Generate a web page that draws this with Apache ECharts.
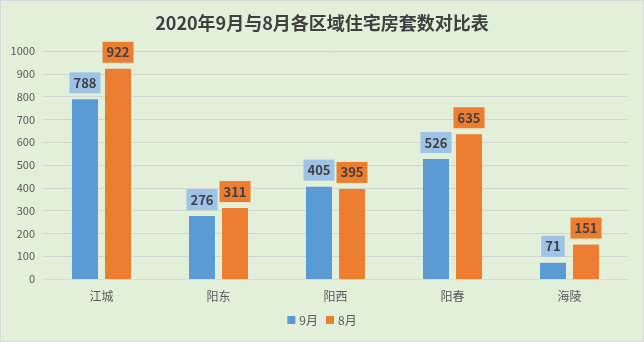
<!DOCTYPE html>
<html>
<head>
<meta charset="utf-8">
<script src="https://cdn.jsdelivr.net/npm/echarts@6/dist/echarts.min.js"></script>
<style>
  html, body { margin: 0; padding: 0; }
  #chart { width: 642px; height: 340px; border: 1px solid #d9d9d9; background: #E2EFD9; }
</style>
</head>
<body>
<div id="chart"></div>
<script>
// Housing units by district, September vs August 2020
const titleText = '2020年9月与8月各区域住宅房套数对比表';
const districts = ['江城', '阳东', '阳西', '阳春', '海陵'];
const september = [788, 276, 405, 526, 71];
const august = [922, 311, 395, 635, 151];
const seriesNames = ['9月', '8月'];

const chart = echarts.init(document.getElementById('chart'));
const font = '"Microsoft YaHei", "Noto Sans CJK SC", sans-serif';

function valueLabel(bg) {
  return {
    show: true,
    position: 'top',
    distance: 6,
    backgroundColor: bg,
    padding: [4, 4, 4, 4],
    color: '#404040',
    fontWeight: 'bold',
    fontSize: 13,
    fontFamily: font
  };
}

chart.setOption({
  backgroundColor: '#E2EFD9',
  textStyle: { fontFamily: font },
  title: {
    text: titleText,
    left: 'center',
    top: 8,
    textStyle: { fontSize: 18, fontWeight: 'bold', color: '#404040', fontFamily: font }
  },
  legend: {
    data: seriesNames,
    bottom: 10,
    left: 'center',
    itemWidth: 8,
    itemHeight: 8,
    itemGap: 8,
    icon: 'rect',
    textStyle: { color: '#595959', fontSize: 12, fontFamily: font, padding: [0, 0, 0, -1] }
  },
  grid: { left: 42, right: 15, top: 50, bottom: 62 },
  xAxis: {
    type: 'category',
    data: districts,
    axisLine: { lineStyle: { color: '#d9d9d9' } },
    axisTick: { show: false },
    axisLabel: { color: '#595959', fontSize: 12, margin: 11, fontFamily: font }
  },
  yAxis: {
    type: 'value',
    min: 0,
    max: 1000,
    interval: 100,
    axisLine: { show: false },
    axisTick: { show: false },
    axisLabel: { color: '#595959', fontSize: 11, margin: 8, fontFamily: font, formatter: v => String(v) },
    splitLine: { lineStyle: { color: '#d4d4d4', width: 1 } }
  },
  series: [
    {
      name: seriesNames[0],
      type: 'bar',
      data: september,
      barWidth: 26,
      barGap: '27%',
      itemStyle: { color: '#5B9BD5' },
      label: valueLabel('#9DC3E6')
    },
    {
      name: seriesNames[1],
      type: 'bar',
      data: august,
      barWidth: 26,
      itemStyle: { color: '#ED7D31' },
      label: valueLabel('#ED7D31')
    }
  ]
});
</script>
</body>
</html>
